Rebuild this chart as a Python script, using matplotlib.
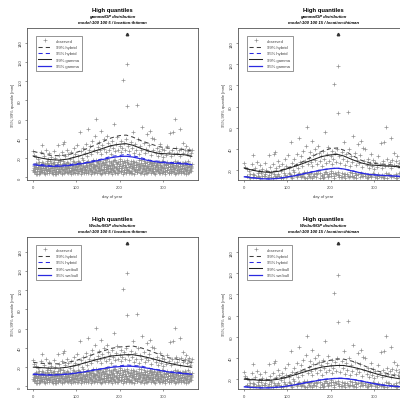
#!/usr/bin/env python3
"""
High quantiles of daily precipitation: gamma/GP and Weibull/GP fits, 2x2 panels.
"""
import numpy as np
import matplotlib
matplotlib.use('Agg')
import matplotlib.pyplot as plt
from matplotlib.lines import Line2D

plt.rcParams['font.family'] = ['Liberation Sans', 'DejaVu Sans']

# ---- observed values (day of year, mm) ----
band_a = """
1 8 3 12 5 6 7 15 9 9 10 4 12 11 14 7 15 13 17 5 18 10 20 16 22 6 23 12 25 8 27 14 28 4 30 11
32 7 33 17 35 9 37 13 38 5 40 10 42 15 43 6 45 12 47 8 48 16 50 4 52 11 53 7 55 14 57 9 58 5
60 12 62 17 63 6 65 10 67 13 68 4 70 8 72 15 73 11 75 6 77 9 78 16 80 5 82 12 83 7 85 14 87 10
88 4 90 13 92 8 93 17 95 6 97 11 98 9 100 15 102 5 103 12 105 7 107 16 108 10 110 4 112 13
113 8 115 18 117 6 118 11 120 9 122 15 123 5 125 12 127 17 128 7 130 10 132 14 133 4 135 8
137 16 138 11 140 6 142 13 143 9 145 18 147 5 148 12 150 15 152 7 153 10 155 17 157 4 158 13
160 8 162 16 163 11 165 6 167 14 168 9 170 19 172 5 173 12 175 17 177 7 178 10 180 15 182 4
183 13 185 8 187 18 188 11 190 6 192 16 193 9 195 14 197 5 198 12 200 19 202 7 203 10 205 17
207 4 208 13 210 8 212 16 213 11 215 6 217 18 218 9 220 14 222 5 223 12 225 17 227 7 228 10
230 15 232 4 233 13 235 8 237 16 238 11 240 6 242 14 243 9 245 18 247 5 248 12 250 15 252 7
253 10 255 17 257 4 258 13 260 8 262 16 263 11 265 6 267 14 268 9 270 17 272 5 273 12 275 15
277 7 278 10 280 16 282 4 283 13 285 8 287 14 288 11 290 6 292 15 293 9 295 12 297 5 298 17
300 7 302 10 303 14 305 4 307 13 308 8 310 16 312 11 313 6 315 14 317 9 318 5 320 12 322 15
323 7 325 10 327 17 328 4 330 13 332 8 333 16 335 11 337 6 338 14 340 9 342 5 343 12 345 15
347 7 348 10 350 16 352 4 353 13 355 8 357 17 358 11 360 6 362 14 363 9 365 12
"""
band_b = """
2 6.5 4 10.5 6 14.2 8 3.8 11 9.3 13 16.1 16 5.6 19 12.4 21 7.7 24 15.3 26 4.9 29 11.8 31 8.6
34 13.9 36 6.2 39 17.4 41 9.9 44 5.1 46 14.6 49 7.3 51 12.2 54 3.9 56 10.7 59 15.8 61 6.8
64 11.1 66 8.4 69 16.7 71 4.6 74 13.3 76 9.5 79 6.1 81 14.9 84 10.2 86 5.3 89 12.8 91 7.9
94 15.6 96 4.2 99 11.4 101 8.8 104 17.2 106 6.4 109 13.7 111 9.1 114 5.7 116 15.1 119 10.9
121 7.2 124 16.4 126 4.4 129 12.6 131 8.1 134 14.3 136 6.6 139 18.2 141 10.4 144 5.4 146 13.1
149 9.7 151 16.9 154 7.5 156 11.6 159 4.7 161 14.7 164 8.9 166 17.8 169 6.3 171 12.9 174 10.1
176 5.2 179 15.9 181 8.3 184 13.6 186 6.9 189 18.4 191 11.2 194 4.3 196 16.2 199 9.4 201 14.1
204 7.1 206 12.3 209 5.8 211 17.1 214 10.6 216 8.2 219 15.4 221 6.7 224 13.8 226 4.5 229 11.9
231 16.6 234 9.2 236 7.4 239 14.4 241 5.5 244 12.1 246 10.3 249 17.6 251 6.1 254 13.2 256 8.7
259 15.2 261 4.8 264 11.5 266 9.6 269 16.3 271 7.6 274 12.7 276 5.9 279 14.8 281 10.8 284 6.4
286 13.4 289 8.5 291 15.7 294 4.1 296 11.3 299 9.8 301 16.8 304 6.9 306 12.5 309 8.0 311 14.2
314 5.0 316 10.5 319 15.5 321 7.0 324 13.0 326 9.0 329 4.9 331 11.7 334 16.0 336 6.5 339 12.0
341 8.4 344 14.5 346 5.6 349 10.0 351 15.0 354 7.8 356 11.0 359 13.5 361 6.0 364 9.5 366 14.0
"""
band_c = """
1.5 10.1 3.5 5.2 5.5 9.0 7.5 11.3 9.5 7.1 11.5 13.8 13.5 3.4 15.5 8.9 17.5 11.9 19.5 6.3
21.5 13.4 23.5 9.6 25.5 5.9 27.5 10.3 29.5 7.4 31.5 14.7 33.5 4.6 35.5 11.7 37.5 8.2 39.5 6.7
41.5 12.9 43.5 9.4 45.5 3.6 47.5 10.8 49.5 14.1 51.5 6.0 53.5 9.2 55.5 12.0 57.5 5.4 59.5 8.3
61.5 13.6 63.5 7.0 65.5 10.9 67.5 4.9 69.5 12.5 71.5 8.8 73.5 6.2 75.5 14.4 77.5 9.9 79.5 5.7
81.5 11.2 83.5 7.8 85.5 13.0 87.5 6.5 89.5 9.4 91.5 11.6 93.5 4.4 95.5 8.6 97.5 13.9 99.5 7.3
101.5 10.6 103.5 5.1 105.5 12.7 107.5 8.4 109.5 14.8 111.5 6.8 113.5 10.2 115.5 12.3 117.5 4.2
119.5 9.1 121.5 13.2 123.5 7.6 125.5 11.0 127.5 5.5 129.5 15.3 131.5 8.7 133.5 12.1 135.5 6.1
137.5 9.8 139.5 14.0 141.5 4.8 143.5 11.4 145.5 7.9 147.5 16.2 149.5 6.4 151.5 10.4 153.5 13.5
155.5 5.0 157.5 9.0 159.5 15.0 161.5 7.2 163.5 12.6 165.5 4.6 167.5 10.7 169.5 16.4 171.5 8.5
173.5 6.6 175.5 13.1 177.5 11.5 179.5 5.3 181.5 9.5 183.5 16.9 185.5 7.4 187.5 12.2 189.5 4.4
191.5 10.0 193.5 14.6 195.5 8.0 197.5 6.3 199.5 11.8 201.5 17.3 203.5 5.6 205.5 9.3 207.5 14.9
209.5 7.7 211.5 12.8 213.5 4.7 215.5 10.5 217.5 15.7 219.5 8.1 221.5 11.1 223.5 6.0 225.5 13.7
227.5 9.7 229.5 4.3 231.5 11.3 233.5 16.0 235.5 7.1 237.5 12.4 239.5 5.2 241.5 9.2 243.5 14.2
245.5 7.5 247.5 10.9 249.5 4.9 251.5 13.3 253.5 8.3 255.5 11.6 257.5 6.2 259.5 15.5 261.5 9.8
263.5 4.5 265.5 12.0 267.5 7.8 269.5 10.3 271.5 14.5 273.5 6.4 275.5 9.1 277.5 12.9 279.5 5.0
281.5 8.6 283.5 11.7 285.5 15.1 287.5 6.9 289.5 10.1 291.5 4.2 293.5 13.4 295.5 8.2 297.5 11.0
299.5 6.1 301.5 12.6 303.5 9.4 305.5 5.5 307.5 14.3 309.5 7.4 311.5 10.8 313.5 4.7 315.5 12.2
317.5 8.8 319.5 6.6 321.5 13.8 323.5 10.4 325.5 5.3 327.5 9.5 329.5 12.7 331.5 7.2 333.5 4.4
335.5 11.4 337.5 8.9 339.5 14.7 341.5 6.3 343.5 10.0 345.5 12.4 347.5 5.1 349.5 8.4 351.5 13.1
353.5 6.8 355.5 10.6 357.5 4.6 359.5 12.1 361.5 8.0 363.5 10.9 365.5 6.4
"""
upper = """
1 27 3 23 8 21 12 19 18 26 22 34 25 22 30 28 35 19 38 25 42 21 48 27 52 20 57 34 60 23 63 18
66 26 70 35 72 37 75 22 78 29 82 24 85 19 88 26 92 21 95 31 98 24 102 34 105 22 108 47 110 27
113 20 116 31 119 25 122 35 125 22 127 50 130 28 132 33 135 24 137 38 140 29 143 43 145 61
147 26 150 32 152 37 155 28 157 48 158 24 160 34 163 30 165 40 168 26 170 43 172 36 175 29
178 33 180 24 183 38 185 31 188 56 190 27 192 35 195 42 197 29 200 33 202 38 204 26 206 31
208 101 210 36 212 28 214 40 217 74 218 118 220 33 222 27 225 37 228 31 230 47 232 25 235 35
238 29 240 75 242 40 245 24 248 33 250 28 252 52 255 36 258 25 260 30 262 45 265 27 268 34
270 48 272 23 275 41 278 29 280 40 283 25 286 31 288 22 290 27 293 35 296 24 298 30 300 21
303 28 306 23 310 33 313 26 315 46 318 22 320 29 322 47 325 24 328 61 330 31 333 25 336 28
338 22 340 50 342 30 345 36 347 25 350 29 352 33 355 24 358 27 360 30 363 22 365 25 366 28
"""
obs_max_day, obs_max_val = 217, 149

# ---- fitted quantile curves ----
days = [1, 20, 40, 60, 80, 100, 120, 140, 160, 180, 200, 215, 230, 250, 270, 290, 310, 330, 350, 366]

g5_hyb99 = [27, 25, 23, 22.5, 23.5, 26, 29, 33, 37, 41, 43.5, 44, 42, 38, 35, 32, 30.5, 30, 29, 27.5]
g5_gam99 = [22, 20, 18.5, 18, 19, 21.5, 24, 27, 30, 33, 34.5, 35, 33.5, 30, 27, 25, 24.5, 24, 23.5, 22]
g5_hyb95 = [14, 13.4, 12, 12.8, 12.9, 14.4, 15.3, 17.4, 19.2, 21.9, 22.8, 24, 22.6, 20.4, 17.7, 16.8, 15.7, 15.3, 14.8, 14]
g5_gam95 = [13, 12.2, 11.5, 11.6, 12.2, 13.3, 14.8, 16.5, 18.5, 20.5, 21.8, 22, 21.2, 19.2, 17.2, 15.8, 15, 14.5, 14, 13.2]

g15_hyb99 = [22, 20.5, 19, 18.5, 19.5, 22, 25, 29, 33.5, 38, 40.5, 41, 39, 34, 29.5, 27, 26, 25.5, 24.5, 22.5]
g15_gam99 = [22, 20, 18.5, 18, 19, 21.5, 24, 27, 30, 33, 34.5, 35, 33.5, 30, 27, 25, 24.5, 24, 23.5, 22]
g15_hyb95 = [14, 13, 12, 11.8, 12.5, 13.8, 15.2, 17, 18.8, 20.5, 21.6, 22, 21.3, 19.5, 17.5, 16, 15.4, 15, 14.6, 14]
g15_gam95 = [13.8, 12.8, 12, 11.8, 12.3, 13.6, 15, 16.8, 18.6, 20.3, 21.5, 21.9, 21.2, 19.3, 17.4, 16, 15.3, 14.9, 14.5, 13.9]

w5_hyb99 = [25, 24, 23.5, 23.5, 25, 27, 30, 33.5, 36.5, 39.5, 41, 41.5, 42, 40, 37, 33.5, 30, 28.5, 26.5, 25]
w5_wei99 = [20, 19.5, 19, 19, 20, 22, 24.5, 27, 29.5, 31.5, 32.5, 33, 33, 31.5, 29.5, 27, 24.5, 22.5, 21, 20]
w5_hyb95 = [13, 12.8, 12, 12.6, 12.9, 14.3, 15.3, 17.4, 18.3, 20.9, 21.3, 22.4, 21.7, 21.2, 18.7, 17.3, 15.3, 14.8, 13.6, 13]
w5_wei95 = [12.5, 12, 11.8, 12, 12.7, 13.8, 15.2, 16.8, 18.4, 19.8, 20.6, 21, 20.9, 20, 18.5, 16.8, 15.2, 14, 13.2, 12.6]

w15_hyb99 = [21, 20, 19.5, 19.5, 21, 23, 26, 29.5, 33, 36, 38, 39, 39, 37, 34, 30.5, 27.5, 25.5, 23, 21.5]
w15_wei99 = [20, 19.5, 19, 19, 20, 22, 24.5, 27, 29.5, 31.5, 32.5, 33, 33, 31.5, 29.5, 27, 24.5, 22.5, 21, 20]
w15_hyb95 = [13, 12.3, 12, 12, 12.6, 13.7, 15, 16.6, 18.2, 19.7, 20.6, 21, 21, 20, 18.5, 16.8, 15.2, 14, 13.4, 13]
w15_wei95 = [12.8, 12.2, 11.8, 11.9, 12.5, 13.5, 14.9, 16.5, 18, 19.5, 20.4, 20.8, 20.7, 19.8, 18.3, 16.6, 15, 13.9, 13.2, 12.8]


def parse_pairs(text):
    v = np.array(text.split(), dtype=float)
    return v[0::2], v[1::2]


def main():
    blocks = [parse_pairs(t) for t in (band_a, band_b, band_c, upper)]
    obs_x = np.concatenate([b[0] for b in blocks])
    obs_y = np.concatenate([b[1] for b in blocks])

    W, H = 400, 406
    fig = plt.figure(figsize=(W / 100, H / 100), dpi=100)

    def px_axes(left, top, right, bottom):
        return fig.add_axes([left / W, 1 - bottom / H, (right - left) / W, (bottom - top) / H])

    blue = '#2a2ae0'
    panels = [
        # (box px, family, model, name, curves, ylim, threshold of shown obs, show xlabel)
        ((27, 29.3, 198, 181.3), 'gamma/GP distribution', 'model:100 100 5 / location:ihtiman',
         'gamma', (g5_hyb99, g5_hyb95, g5_gam99, g5_gam95), (-3, 155), 0, True),
        ((238, 29.3, 409, 181.3), 'gamma/GP distribution', 'model:100 100 15 / location:ihtiman',
         'gamma', (g15_hyb99, g15_hyb95, g15_gam99, g15_gam95), (10.5, 154), 13, True),
        ((27, 238.3, 198, 390.3), 'Weibull/GP distribution', 'model:100 100 5 / location:ihtiman',
         'weibull', (w5_hyb99, w5_hyb95, w5_wei99, w5_wei95), (-3, 155), 0, False),
        ((238, 238.3, 409, 390.3), 'Weibull/GP distribution', 'model:100 100 15 / location:ihtiman',
         'weibull', (w15_hyb99, w15_hyb95, w15_wei99, w15_wei95), (10.5, 154), 13, False),
    ]

    for box, fam, model, name, (h99, h95, m99, m95), ylim, thr, xlab in panels:
        ax = px_axes(*box)
        sel = obs_y >= thr
        ax.plot(obs_x[sel], obs_y[sel], '+', color='#909090', ms=2.6, mew=0.5, zorder=1)
        ax.plot([obs_max_day], [obs_max_val], '^', color='#333333', ms=1.8, zorder=2)
        ax.plot(days, h99, color='#404040', lw=0.75, ls=(0, (4, 3)), zorder=3)
        ax.plot(days, m99, color='#222222', lw=0.75, zorder=3)
        ax.plot(days, h95, color=blue, lw=0.75, ls=(0, (4, 3)), zorder=3)
        ax.plot(days, m95, color=blue, lw=0.9, zorder=3)

        ax.set_xlim(-13.6, 380.6)
        ax.set_ylim(*ylim)
        ax.set_xticks([0, 100, 200, 300])
        ax.set_yticks([y for y in range(0, 141, 20) if y >= ylim[0]])
        ax.tick_params(labelsize=3.0, length=1.6, width=0.4, pad=1.8, colors='#444444')
        for lab in ax.get_yticklabels():
            lab.set_rotation(90)
            lab.set_va('center')
        for s in ax.spines.values():
            s.set_linewidth(0.6)
            s.set_color('#555555')
        ax.set_ylabel('95%,99% quantile [mm]', fontsize=3.0, color='#444444', labelpad=2.5)
        if xlab:
            ax.set_xlabel('day of year', fontsize=3.0, color='#444444', labelpad=3.5)

        hgt = box[3] - box[1]
        ax.text(0.5, 1 + 18.5 / hgt, 'High quantiles', transform=ax.transAxes,
                ha='center', va='center', fontsize=4.2, fontweight='bold')
        ax.text(0.5, 1 + 12.5 / hgt, fam, transform=ax.transAxes,
                ha='center', va='center', fontsize=3.1, fontweight='bold', style='italic')
        ax.text(0.5, 1 + 6.3 / hgt, model, transform=ax.transAxes,
                ha='center', va='center', fontsize=3.1, fontweight='bold', style='italic')

        handles = [
            Line2D([], [], ls='none', marker='+', color='#8a8a8a', ms=2.2, mew=0.45),
            Line2D([], [], color='#404040', lw=0.75, ls=(0, (4, 3))),
            Line2D([], [], color=blue, lw=0.75, ls=(0, (4, 3))),
            Line2D([], [], color='#222222', lw=0.75),
            Line2D([], [], color=blue, lw=0.9),
        ]
        labels = ['observed', '99% hybrid', '95% hybrid', f'99% {name}', f'95% {name}']
        leg = ax.legend(handles, labels, loc='upper left', bbox_to_anchor=(0.05, 0.95),
                        fontsize=3.0, frameon=True, fancybox=False, handlelength=3.0,
                        handletextpad=1.2, labelspacing=0.55, borderpad=0.7,
                        borderaxespad=0.0)
        leg.get_frame().set_edgecolor('#444444')
        leg.get_frame().set_linewidth(0.5)
        for t in leg.get_texts():
            t.set_color('#444444')

    fig.savefig('out.png', dpi=100)
    print('Saved: out.png')


if __name__ == '__main__':
    main()
